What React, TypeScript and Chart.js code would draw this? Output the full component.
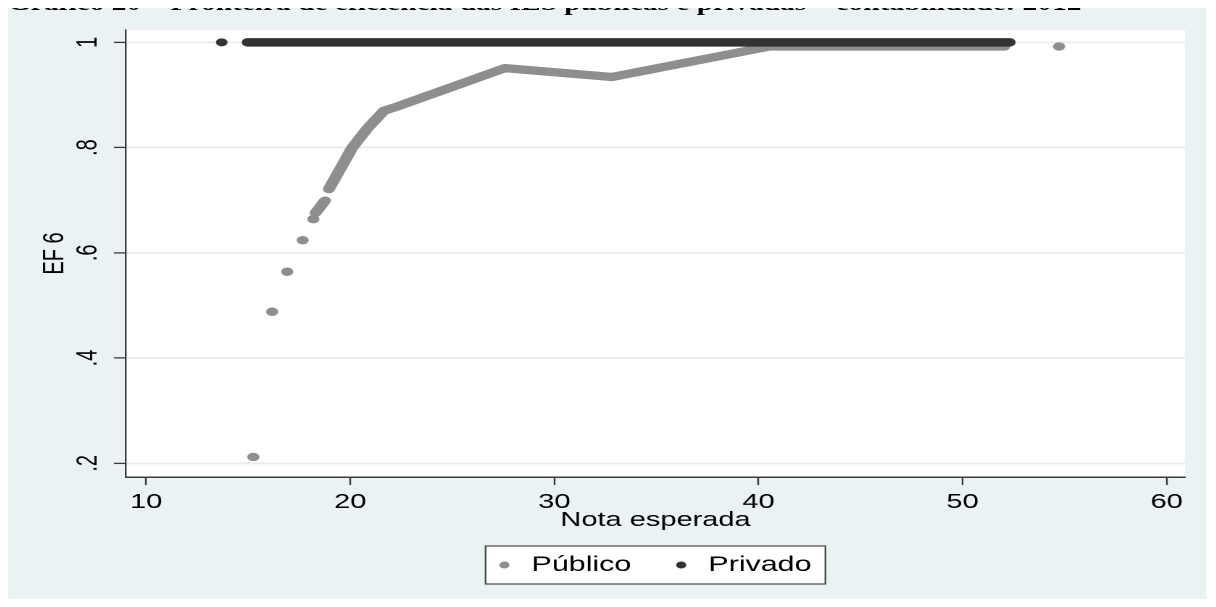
import React, { useEffect, useRef } from 'react';
import { Chart, registerables } from 'chart.js';

Chart.register(...registerables);

// ---------- text ----------
const CHART_TITLE = 'Gráfico 20 – Fronteira de eficiência das IES públicas e privadas – contabilidade: 2012';
const X_TITLE = 'Nota esperada';
const Y_TITLE = 'EF 6';
const SERIES_NAMES = ['Público', 'Privado'];

// ---------- axes ----------
const X_MIN = 9.01;
const X_MAX = 60.9;
const Y_MIN = 0.174;
const Y_MAX = 1.0234;
const X_TICKS = [10, 20, 30, 40, 50, 60];
const Y_TICKS = [0.2, 0.4, 0.6, 0.8, 1];
const Y_TICK_LABELS = ['.2', '.4', '.6', '.8', '1'];

// ---------- data: Público ----------
const PUBLICO_DOTS_X = [15.25, 16.17, 16.91, 17.67, 18.19, 54.73];
const PUBLICO_DOTS_Y = [0.212, 0.488, 0.564, 0.624, 0.664, 0.992];
const PUBLICO_RUN_X = [18.3, 18.76, 18.86, 18.95, 20.1, 20.85, 21.65, 22.38, 27.58, 32.82, 40.52, 52.05];
const PUBLICO_RUN_Y = [0.676, 0.699, null, 0.721, 0.8, 0.837, 0.87, 0.879, 0.951, 0.934, 0.992, 0.992];

// ---------- data: Privado ----------
const PRIVADO_DOTS_X = [13.7];
const PRIVADO_DOTS_Y = [1.0];
const PRIVADO_RUN_X = [14.98, 52.3];
const PRIVADO_RUN_Y = [1.0, 1.0];

// ---------- style ----------
const BG = '#eaf2f3';
const GRID = '#e3ecee';
const AXIS = '#3a3a3a';
const GRAY = '#8e8e8e';
const DARK = '#333333';
const FONT_FAMILY = '"Liberation Sans", Arial, Helvetica, sans-serif';

const CSS_W = 1200;
const CSS_H = 600;
const CHART_W = 828; // drawn narrower, then stretched horizontally like the source image

const pts = (xs: number[], ys: (number | null)[]) => xs.map((x, i) => ({ x, y: ys[i] }));

const bgPlugin = {
  id: 'stataBg',
  beforeDraw(chart: any) {
    const { ctx, chartArea: a, width, height } = chart;
    ctx.save();
    ctx.fillStyle = BG;
    ctx.fillRect(0, 0, width, height);
    ctx.fillStyle = '#ffffff';
    ctx.fillRect(a.left, a.top, a.right - a.left, a.bottom - a.top);
    ctx.restore();
  },
};

const legendPlugin = {
  id: 'stataLegend',
  afterDraw(chart: any) {
    const { ctx, chartArea } = chart;
    const xs = chart.scales.x;
    const colors = [GRAY, DARK];
    ctx.save();
    ctx.font = `21px ${FONT_FAMILY}`;
    const w = SERIES_NAMES.map((n) => ctx.measureText(n).width);
    const padL = 13;
    const markToText = 18.7;
    const itemGap = 34.4;
    const padR = 9.6;
    const total = padL + markToText + w[0] + itemGap + markToText + w[1] + padR;
    const cx = (chartArea.left + chartArea.right) / 2;
    const left = cx - total / 2;
    const top = xs.bottom + 13.6;
    const h = 38;
    const mid = top + h / 2;
    ctx.fillStyle = '#ffffff';
    ctx.fillRect(left, top, total, h);
    ctx.strokeStyle = '#4a4a4a';
    ctx.lineWidth = 1.2;
    ctx.strokeRect(left, top, total, h);
    let x = left + padL;
    SERIES_NAMES.forEach((name, i) => {
      ctx.fillStyle = colors[i];
      ctx.beginPath();
      ctx.arc(x, mid, 3.5, 0, Math.PI * 2);
      ctx.fill();
      ctx.fillStyle = '#000000';
      ctx.textBaseline = 'middle';
      ctx.textAlign = 'left';
      ctx.fillText(name, x + markToText, mid);
      x += markToText + w[i] + itemGap;
    });
    ctx.restore();
  },
};

function buildConfig(): any {
  const font = { family: FONT_FAMILY, size: 20 };
  return {
    type: 'scatter',
    data: {
      datasets: [
        {
          label: SERIES_NAMES[1],
          data: pts(PRIVADO_RUN_X, PRIVADO_RUN_Y),
          showLine: true,
          borderColor: DARK,
          borderWidth: 8.5,
          borderCapStyle: 'round',
          borderJoinStyle: 'round',
          pointRadius: 0,
          order: 0,
        },
        {
          label: SERIES_NAMES[1],
          data: pts(PRIVADO_DOTS_X, PRIVADO_DOTS_Y),
          backgroundColor: DARK,
          borderWidth: 0,
          pointRadius: 4,
          order: 0,
        },
        {
          label: SERIES_NAMES[0],
          data: pts(PUBLICO_RUN_X, PUBLICO_RUN_Y),
          showLine: true,
          spanGaps: false,
          borderColor: GRAY,
          borderWidth: 8.3,
          borderCapStyle: 'round',
          borderJoinStyle: 'round',
          pointRadius: 0,
          order: 1,
        },
        {
          label: SERIES_NAMES[0],
          data: pts(PUBLICO_DOTS_X, PUBLICO_DOTS_Y),
          backgroundColor: GRAY,
          borderWidth: 0,
          pointRadius: 4.2,
          order: 1,
        },
      ],
    },
    options: {
      responsive: false,
      animation: false,
      devicePixelRatio: 2,
      events: [],
      layout: { padding: { left: 20, right: 14.5, top: 23, bottom: 74.6 } },
      plugins: {
        legend: { display: false },
        tooltip: { enabled: false },
        title: { display: false },
      },
      scales: {
        x: {
          type: 'linear',
          min: X_MIN,
          max: X_MAX,
          afterBuildTicks: (s: any) => {
            s.ticks = X_TICKS.map((v) => ({ value: v }));
          },
          afterFit: (s: any) => {
            s.height = 55.4;
          },
          ticks: {
            padding: 5.4,
            color: '#000000',
            font,
            autoSkip: false,
            maxRotation: 0,
            minRotation: 0,
            callback: (v: any) => String(v),
          },
          grid: {
            drawOnChartArea: false,
            drawTicks: true,
            tickLength: 8,
            tickColor: AXIS,
            tickWidth: 1.2,
          },
          border: { display: true, color: AXIS, width: 1.5 },
          title: {
            display: true,
            text: X_TITLE,
            color: '#000000',
            font,
            padding: { top: 0, bottom: 0 },
          },
        },
        y: {
          type: 'linear',
          min: Y_MIN,
          max: Y_MAX,
          afterBuildTicks: (s: any) => {
            s.ticks = Y_TICKS.map((v) => ({ value: v }));
          },
          afterFit: (s: any) => {
            s.width = 62.8;
          },
          ticks: {
            padding: 9.2,
            minRotation: 90,
            maxRotation: 90,
            crossAlign: 'center',
            color: '#000000',
            font,
            autoSkip: false,
            callback: (_v: any, i: number) => Y_TICK_LABELS[i],
          },
          grid: {
            color: GRID,
            lineWidth: 1.8,
            drawTicks: true,
            tickLength: 8.3,
            tickColor: AXIS,
            tickWidth: 1.3,
          },
          border: { display: true, color: AXIS, width: 1.2 },
          title: {
            display: true,
            text: Y_TITLE,
            color: '#000000',
            font,
            padding: { top: 2, bottom: 0 },
          },
        },
      },
    },
    plugins: [bgPlugin, legendPlugin],
  };
}

export default function App() {
  const ref = useRef<HTMLCanvasElement>(null);
  useEffect(() => {
    if (!ref.current) return;
    const chart = new Chart(ref.current, buildConfig());
    return () => chart.destroy();
  }, []);
  return (
    <div
      style={{
        position: 'relative',
        marginTop: -1,
        marginLeft: -2,
        marginBottom: -8,
        width: CSS_W,
        height: CSS_H,
      }}
    >
      <canvas
        ref={ref}
        width={CHART_W}
        height={CSS_H}
        style={{ display: 'block', width: CSS_W + 'px', height: CSS_H + 'px' }}
      />
      <div
        style={{
          position: 'absolute',
          left: 2,
          top: -14.5,
          fontFamily: '"Liberation Serif", "Times New Roman", serif',
          fontWeight: 'bold',
          fontSize: '20px',
          lineHeight: '20px',
          whiteSpace: 'nowrap',
          transform: 'scaleX(1.47)',
          transformOrigin: 'left top',
          color: '#000000',
        }}
      >
        {CHART_TITLE}
      </div>
    </div>
  );
}
